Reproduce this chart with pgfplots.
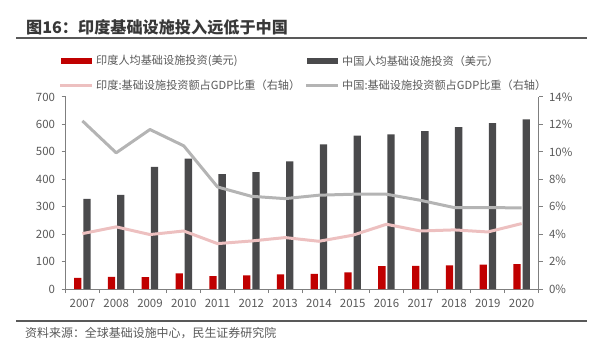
\documentclass[border=0pt]{standalone}
\usepackage{pgfplots}
\pgfplotsset{compat=1.18}
\usepackage{fontspec}
\setmainfont{Noto Sans CJK SC}
\definecolor{cred}{HTML}{C00000}
\definecolor{cdark}{HTML}{4A4A4C}
\definecolor{cpink}{HTML}{EDC0C0}
\definecolor{cgray}{HTML}{B4B4B4}
\definecolor{ctext}{HTML}{595959}
\definecolor{caxis}{HTML}{7F7F7F}
\pgfplotstableread{
x india china
0 41 329
1 44 343
2 43 445
3 57 475
4 47 419
5 50 426
6 53 465
7 55 527
8 61 559
9 83 564
10 84 576
11 86 590
12 89 605
13 91 618
}\bars
\pgfplotstableread{
x india china
0 4.04 12.26
1 4.53 9.93
2 3.97 11.63
3 4.23 10.44
4 3.31 7.44
5 3.50 6.76
6 3.75 6.59
7 3.48 6.84
8 3.92 6.91
9 4.72 6.91
10 4.23 6.47
11 4.31 5.94
12 4.16 5.94
13 4.77 5.91
}\lines
\begin{document}
\begin{tikzpicture}[x=1bp,y=1bp]
\path[use as bounding box] (0,0) rectangle (612,349);
% title
\node[anchor=west,inner sep=0pt,font=\fontsize{16.2}{16.2}\selectfont\bfseries,text=black!78] at (26,322) {图16：印度基础设施投入远低于中国};
\draw[ctext,line width=1.2bp] (16,311) -- (587,311);
% legend
\fill[cred] (61,285) rectangle (92,291);
\node[anchor=west,inner sep=0pt,font=\fontsize{11.2}{11.2}\selectfont,text=ctext] at (96,288) {印度人均基础设施投资(美元)};
\fill[cdark] (307,285) rectangle (338,291);
\node[anchor=west,inner sep=0pt,font=\fontsize{11.2}{11.2}\selectfont,text=ctext] at (342,288) {中国人均基础设施投资（美元）};
\draw[cpink,line width=3bp] (60,264) -- (92,264);
\node[anchor=west,inner sep=0pt,font=\fontsize{11.2}{11.2}\selectfont,text=ctext] at (96,264) {印度:基础设施投资额占GDP比重（右轴）};
\draw[cgray,line width=3bp] (306,264) -- (338,264);
\node[anchor=west,inner sep=0pt,font=\fontsize{11.2}{11.2}\selectfont,text=ctext] at (342,264) {中国:基础设施投资额占GDP比重（右轴）};
% footer
\draw[ctext,line width=1.2bp] (16,28) -- (587,28);
\node[anchor=west,inner sep=0pt,font=\fontsize{12}{12}\selectfont,text=ctext] at (25,16) {资料来源：全球基础设施中心，民生证券研究院};
% bars axis
\begin{axis}[
  at={(65.5bp,60bp)}, anchor=south west,
  scale only axis, width=473bp, height=192bp,
  xmin=-0.5, xmax=13.5, ymin=0, ymax=700,
  ytick={0,100,...,700},
  xtick={0,...,13},
  xticklabels={2007,2008,2009,2010,2011,2012,2013,2014,2015,2016,2017,2018,2019,2020},
  minor xtick={-0.5,0.5,...,13.5},
  major x tick style={draw=none},
  minor tick length=4bp, major tick length=4bp,
  tick align=outside,
  axis x line*=bottom, axis y line*=left,
  axis line style={caxis,line width=1bp,-},
  every tick/.style={caxis,line width=1bp},
  ticklabel style={font=\fontsize{11.5}{11.5}\selectfont,text=ctext},
  /pgf/number format/assume math mode=true,
  yticklabel style={xshift=-3bp},
  xticklabel style={yshift=-3bp},
  clip=false,
]
\addplot[ybar, bar width=7.3bp, bar shift=-4.6bp, fill=cred, draw=none] table[x=x,y=india] {\bars};
\addplot[ybar, bar width=7.3bp, bar shift=4.6bp, fill=cdark, draw=none] table[x=x,y=china] {\bars};
\end{axis}
% lines axis
\begin{axis}[
  at={(65.5bp,60bp)}, anchor=south west,
  scale only axis, width=473bp, height=192bp,
  xmin=-0.5, xmax=13.5, ymin=0, ymax=14,
  ytick={0,2,...,14},
  yticklabel={\pgfmathprintnumber{\tick}\%},
  axis x line=none, axis y line*=right,
  tick align=outside, major tick length=4bp,
  axis line style={caxis,line width=1bp,-},
  every tick/.style={caxis,line width=1bp},
  ticklabel style={font=\fontsize{11.5}{11.5}\selectfont,text=ctext},
  /pgf/number format/assume math mode=true,
  yticklabel style={xshift=3bp},
  clip=false,
]
\addplot[cpink, line width=3bp, line join=round] table[x=x,y=india] {\lines};
\addplot[cgray, line width=3bp, line join=round] table[x=x,y=china] {\lines};
\end{axis}
\end{tikzpicture}
\end{document}
